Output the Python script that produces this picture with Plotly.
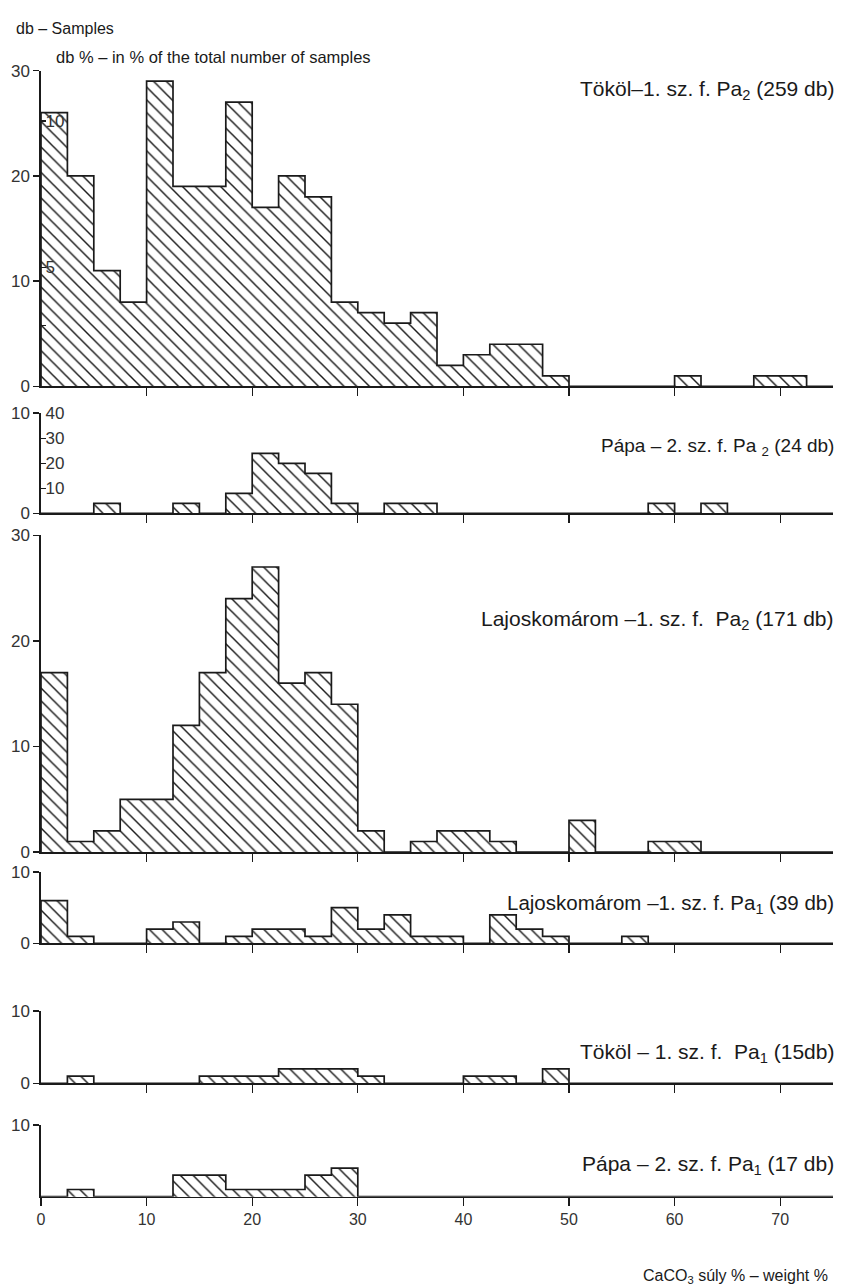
import plotly.graph_objects as go

# ---------------- data ----------------
bin_left = [0, 2.5, 5, 7.5, 10, 12.5, 15, 17.5, 20, 22.5, 25, 27.5, 30, 32.5, 35,
            37.5, 40, 42.5, 45, 47.5, 50, 52.5, 55, 57.5, 60, 62.5, 65, 67.5, 70, 72.5]
bin_width = 2.5

tokol_pa2 = [26, 20, 11, 8, 29, 19, 19, 27, 17, 20, 18, 8, 7, 6, 7,
             2, 3, 4, 4, 1, 0, 0, 0, 0, 1, 0, 0, 1, 1, 0]
papa_pa2 = [0, 0, 1, 0, 0, 1, 0, 2, 6, 5, 4, 1, 0, 1, 1,
            0, 0, 0, 0, 0, 0, 0, 0, 1, 0, 1, 0, 0, 0, 0]
lajos_pa2 = [17, 1, 2, 5, 5, 12, 17, 24, 27, 16, 17, 14, 2, 0, 1,
             2, 2, 1, 0, 0, 3, 0, 0, 1, 1, 0, 0, 0, 0, 0]
lajos_pa1 = [6, 1, 0, 0, 2, 3, 0, 1, 2, 2, 1, 5, 2, 4, 1,
             1, 0, 4, 2, 1, 0, 0, 1, 0, 0, 0, 0, 0, 0, 0]
tokol_pa1 = [0, 1, 0, 0, 0, 0, 1, 1, 1, 2, 2, 2, 1, 0, 0,
             0, 1, 1, 0, 2, 0, 0, 0, 0, 0, 0, 0, 0, 0, 0]
papa_pa1 = [0, 1, 0, 0, 0, 3, 3, 1, 1, 1, 3, 4, 0, 0, 0,
            0, 0, 0, 0, 0, 0, 0, 0, 0, 0, 0, 0, 0, 0, 0]

panel_titles = [
    "Tököl–1. sz. f. Pa<sub>2</sub> (259 db)",
    "Pápa – 2. sz. f. Pa <sub>2</sub> (24 db)",
    "Lajoskomárom –1. sz. f.  Pa<sub>2</sub> (171 db)",
    "Lajoskomárom –1. sz. f. Pa<sub>1</sub> (39 db)",
    "Tököl – 1. sz. f.  Pa<sub>1</sub> (15db)",
    "Pápa – 2. sz. f. Pa<sub>1</sub> (17 db)",
]
panel_counts = [tokol_pa2, papa_pa2, lajos_pa2, lajos_pa1, tokol_pa1, papa_pa1]
panel_ymax = [30, 10, 30, 10, 10, 10]
panel_yticks = [[0, 10, 20, 30], [0, 10], [0, 10, 20, 30], [0, 10], [0, 10], [10]]

# inner "db %" scales (positions read in db units, labels in %)
pct_pos_p1 = [5.8, 11.3, 25.2]
pct_lab_p1 = ["", "5", "10"]
pct_pos_p2 = [2.5, 5, 7.5, 10]
pct_lab_p2 = ["10", "20", "30", "40"]

x_tick_vals = [0, 10, 20, 30, 40, 50, 60, 70]

# ---------------- layout geometry (pixels) ----------------
W, H = 845, 1288
ML, MR = 41, 12
PW = W - ML - MR
# (pixel y of top value, pixel y of zero line)
panel_px = [(62, 380), (407, 508), (530, 849), (869, 941), (1009, 1082), (1124, 1196)]
title_px_y = [82, 441, 615, 901, 1051, 1164]
title_size = [21, 19, 21, 20.5, 21, 21]


def fx(p):
    return (p - ML) / PW


def fy(p):
    return 1 - p / H


FONT = "Liberation Sans, Arial, sans-serif"
INK = "#1a1a1a"
LAB = "#333333"

fig = go.Figure()
layout = dict(
    width=W, height=H,
    margin=dict(l=ML, r=MR, t=0, b=0),
    paper_bgcolor="white", plot_bgcolor="white",
    showlegend=False,
    bargap=0,
    font=dict(family=FONT, color=INK, size=16),
)

for i, counts in enumerate(panel_counts):
    n = i + 1
    xa = "x" if n == 1 else f"x{n}"
    ya = "y" if n == 1 else f"y{n}"
    centers = [b + bin_width / 2 for b in bin_left]
    # hatched bars
    fig.add_trace(go.Bar(
        x=centers, y=counts, width=bin_width,
        xaxis=xa, yaxis=ya,
        marker=dict(color="white", line=dict(width=0),
                    pattern=dict(shape="\\", size=9, solidity=0.16,
                                 fgcolor=INK, bgcolor="white", fillmode="replace")),
        hoverinfo="skip",
    ))
    # step outline of the histogram
    sx = [bin_left[0]] + bin_left + [bin_left[-1] + bin_width]
    sy = [0] + counts + [0]
    fig.add_trace(go.Scatter(
        x=sx, y=sy, mode="lines", line=dict(shape="hv", color=INK, width=1.7),
        xaxis=xa, yaxis=ya, hoverinfo="skip",
    ))

    top_px, zero_px = panel_px[i]
    layout["xaxis" if n == 1 else f"xaxis{n}"] = dict(
        domain=[0, 1], range=[0, 75], anchor=ya,
        showline=True, linecolor=INK, linewidth=1.6,
        showgrid=False, zeroline=False,
        ticks="outside", ticklen=8, tickwidth=1.4, tickcolor=INK,
        tickvals=x_tick_vals if n == 6 else x_tick_vals[1:],
        showticklabels=(n == 6),
        tickfont=dict(size=16, color=LAB),
        automargin=False, fixedrange=True,
    )
    layout["yaxis" if n == 1 else f"yaxis{n}"] = dict(
        domain=[fy(zero_px), fy(top_px)], range=[0, panel_ymax[i]], anchor=xa,
        showline=True, linecolor=INK, linewidth=1.6,
        showgrid=False, zeroline=False,
        ticks="outside", ticklen=6, tickwidth=1.4, tickcolor=INK,
        tickvals=panel_yticks[i],
        tickfont=dict(size=17, color=LAB),
        automargin=False, fixedrange=True,
    )
    fig.add_annotation(
        text=panel_titles[i], xref="paper", yref="paper",
        x=fx(836), y=fy(title_px_y[i]), xanchor="right", yanchor="middle",
        showarrow=False, font=dict(size=title_size[i], color=INK, family=FONT),
    )

# overlay percentage scales
fig.add_trace(go.Scatter(x=[None], y=[None], xaxis="x", yaxis="y7", hoverinfo="skip"))
fig.add_trace(go.Scatter(x=[None], y=[None], xaxis="x2", yaxis="y8", hoverinfo="skip"))
layout["yaxis7"] = dict(
    overlaying="y", anchor="x", side="left", range=[0, panel_ymax[0]],
    showline=False, showgrid=False, zeroline=False,
    ticks="inside", ticklen=5, tickwidth=1.2, tickcolor=INK,
    ticklabelposition="inside", ticklabeloverflow="allow",
    tickvals=pct_pos_p1, ticktext=pct_lab_p1,
    tickfont=dict(size=17, color=LAB), fixedrange=True,
)
layout["yaxis8"] = dict(
    overlaying="y2", anchor="x2", side="left", range=[0, panel_ymax[1]],
    showline=False, showgrid=False, zeroline=False,
    ticks="inside", ticklen=5, tickwidth=1.2, tickcolor=INK,
    ticklabelposition="inside", ticklabeloverflow="allow",
    tickvals=pct_pos_p2, ticktext=pct_lab_p2,
    tickfont=dict(size=17, color=LAB), fixedrange=True,
)

fig.update_layout(**layout)

# header texts and x-axis title
fig.add_annotation(text="db – Samples", xref="paper", yref="paper",
                   x=fx(14), y=fy(20), xanchor="left", yanchor="middle",
                   showarrow=False, font=dict(size=16, color=INK))
fig.add_annotation(text="db % – in % of the total number of samples", xref="paper", yref="paper",
                   x=fx(54), y=fy(48), xanchor="left", yanchor="middle",
                   showarrow=False, font=dict(size=16.5, color=INK))
fig.add_annotation(text="CaCO<sub>3</sub> súly % – weight %", xref="paper", yref="paper",
                   x=fx(830), y=fy(1276), xanchor="right", yanchor="middle",
                   showarrow=False, font=dict(size=16, color=INK))

fig.write_html("out.html",
               config={"displayModeBar": False, "staticPlot": True},
               post_script="document.body.style.margin='0px';document.body.style.overflow='hidden';")
